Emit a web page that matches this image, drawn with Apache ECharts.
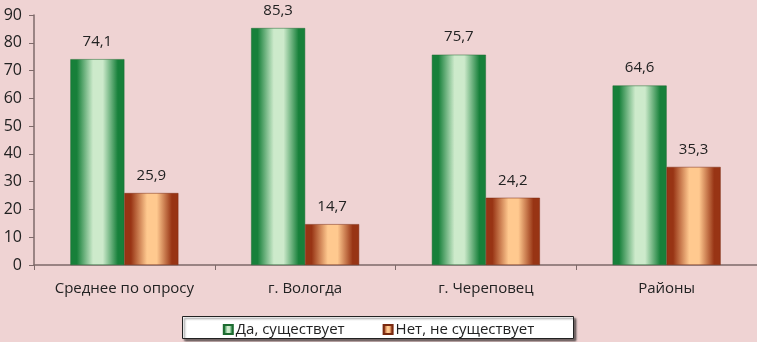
<!DOCTYPE html>
<html><head><meta charset="utf-8">
<script src="https://cdn.jsdelivr.net/npm/echarts@6/dist/echarts.min.js"></script>
<style>html,body{margin:0;padding:0;background:#EFD3D3;}#c{width:757px;height:342px;}</style>
</head><body><div id="c"></div>
<script>
var categories = ['Среднее по опросу', 'г. Вологда', 'г. Череповец', 'Районы'];
var seriesNames = ['Да, существует', 'Нет, не существует'];
var yesValues = [74.1, 85.3, 75.7, 64.6];
var noValues = [25.9, 14.7, 24.2, 35.3];
var yTicks = [0, 10, 20, 30, 40, 50, 60, 70, 80, 90];

var font = 'Open Sans';
function grad(edge, light) {
  return new echarts.graphic.LinearGradient(0, 0, 1, 0, [
    {offset: 0, color: edge},
    {offset: 0.12, color: edge},
    {offset: 0.42, color: light},
    {offset: 0.6, color: light},
    {offset: 0.88, color: edge},
    {offset: 1, color: edge}
  ]);
}
var greenGrad = grad('#17803A', '#CDEACB');
var orangeGrad = grad('#983414', '#FFC98F');
function fmt(p) { return String(p.value).replace('.', ','); }

var chart = echarts.init(document.getElementById('c'));
chart.setOption({
  backgroundColor: '#EFD3D3',
  animation: false,
  grid: {left: 34, right: 0, top: 15, bottom: 77, containLabel: false},
  graphic: [{
    type: 'rect', left: 182, top: 316, shape: {width: 391, height: 22},
    style: {fill: '#fff', stroke: '#222', lineWidth: 1, shadowColor: 'rgba(0,0,0,0.5)', shadowOffsetX: 2, shadowOffsetY: 2, shadowBlur: 2}
  }],
  legend: {
    data: seriesNames, left: 'center', top: 317, itemGap: 38, itemWidth: 9, itemHeight: 9, icon: 'rect',
    textStyle: {fontFamily: font, fontSize: 15, color: '#222', padding: [0, 0, 0, -2]},
    z: 10
  },
  xAxis: {
    type: 'category', data: categories,
    axisLine: {lineStyle: {color: '#7E6A6A', width: 1.5}},
    axisTick: {show: true, length: 5, lineStyle: {color: '#7E6A6A'}},
    axisLabel: {fontFamily: font, fontSize: 15, color: '#222', margin: 16, interval: 0}
  },
  yAxis: {
    type: 'value', min: 0, max: 90, interval: 10,
    axisLine: {show: true, lineStyle: {color: '#7E6A6A', width: 1.5}},
    axisTick: {show: true, length: 5, lineStyle: {color: '#7E6A6A'}},
    splitLine: {show: false},
    axisLabel: {fontFamily: font, fontSize: 16, color: '#222', margin: 12,
      formatter: function (v) { return yTicks.indexOf(v) >= 0 ? String(v) : ''; }}
  },
  series: [
    {name: seriesNames[0], type: 'bar', data: yesValues, barWidth: 54, barGap: '0%',
      itemStyle: {color: greenGrad, borderColor: '#1D6B30', borderWidth: 0.5},
      label: {show: true, position: 'top', distance: 10, formatter: fmt, fontFamily: font, fontSize: 15, color: '#222'}},
    {name: seriesNames[1], type: 'bar', data: noValues, barWidth: 54,
      itemStyle: {color: orangeGrad, borderColor: '#7A2A10', borderWidth: 0.5},
      label: {show: true, position: 'top', distance: 10, formatter: fmt, fontFamily: font, fontSize: 15, color: '#222'}}
  ]
});
</script></body></html>
